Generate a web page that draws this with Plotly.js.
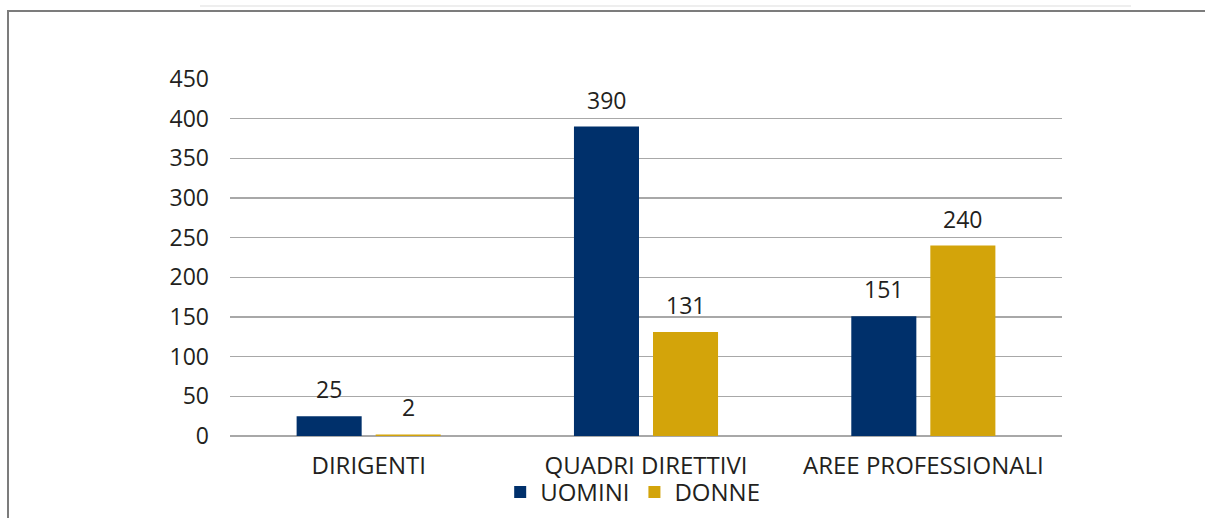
<!DOCTYPE html>
<html>
<head>
<meta charset="utf-8">
<script src="https://cdn.plot.ly/plotly-3.0.1.min.js"></script>
<style>
  html, body { margin: 0; padding: 0; background: #fff; }
  #wrap { position: relative; width: 1205px; height: 518px; overflow: hidden; }
  #topline { position: absolute; left: 200px; top: 5px; width: 931px; height: 2px; background: #eeeeee; }
  #frame { position: absolute; left: 7px; top: 10px; width: 1300px; height: 600px;
           border-left: 2px solid #7c7c7c; border-top: 2px solid #7c7c7c; }
  #chart { position: absolute; left: 0; top: 0; width: 1205px; height: 518px; }
</style>
</head>
<body>
<div id="wrap">
  <div id="topline"></div>
  <div id="frame"></div>
  <div id="chart"></div>
</div>
<script>
const categories = ['DIRIGENTI', 'QUADRI DIRETTIVI', 'AREE PROFESSIONALI'];
const uomini = [25, 390, 151];
const donne = [2, 131, 240];
const yTicks = [0, 50, 100, 150, 200, 250, 300, 350, 400, 450];

const FONT = 'Open Sans, Noto Sans, sans-serif';
const TXT = '#231f20';
const NAVY = '#00306b';
const GOLD = '#d3a40a';

const traces = [
  { x: categories, y: uomini, name: 'UOMINI', type: 'bar',
    marker: { color: NAVY }, hoverinfo: 'skip' },
  { x: categories, y: donne, name: 'DONNE', type: 'bar',
    marker: { color: GOLD }, hoverinfo: 'skip' },
];

// value labels above each bar (bars sit ~39.5px either side of category centre)
const annotations = [];
[[uomini, -39.5], [donne, 39.5]].forEach(([vals, dx]) => {
  vals.forEach((v, i) => {
    annotations.push({
      x: categories[i], y: v, xref: 'x', yref: 'y',
      text: String(v), showarrow: false,
      xshift: dx, yshift: 27, yanchor: 'middle',
      font: { family: FONT, size: 23, color: TXT },
    });
  });
});

const layout = {
  width: 1205, height: 518,
  paper_bgcolor: 'rgba(0,0,0,0)', plot_bgcolor: 'rgba(0,0,0,0)',
  margin: { l: 230, r: 143, t: 79, b: 82, autoexpand: false },
  barmode: 'group', bargap: 0.43, bargroupgap: 0.177,
  font: { family: FONT, size: 23, color: TXT },
  xaxis: {
    showgrid: false, showline: false, ticks: '', ticklabelstandoff: 13,
    tickfont: { family: FONT, size: 24, color: TXT },
  },
  yaxis: {
    range: [0, 450], tickvals: yTicks, ticks: '',
    showgrid: true, gridcolor: '#a8a8a8', gridwidth: 1.5,
    zeroline: true, zerolinecolor: '#a8a8a8', zerolinewidth: 1.5,
    showline: false, ticklabelstandoff: 20,
    tickfont: { family: FONT, size: 23, color: TXT },
  },
  showlegend: true,
  legend: {
    orientation: 'h', x: 0.484, xanchor: 'center', y: -0.158, yanchor: 'middle',
    font: { family: FONT, size: 24, color: TXT }, bgcolor: 'rgba(0,0,0,0)',
    itemwidth: 30, traceorder: 'normal',
  },
  annotations: annotations,
};

Plotly.newPlot('chart', traces, layout, { displayModeBar: false, staticPlot: true });
</script>
</body>
</html>
